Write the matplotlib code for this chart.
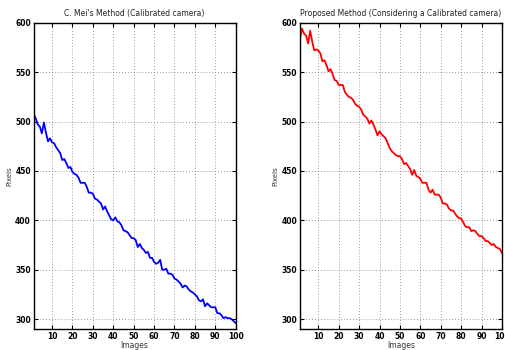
import numpy as np
import matplotlib
matplotlib.use('Agg')
import matplotlib.pyplot as plt

images = np.arange(1, 101)

mei_pixels = [508, 503, 497, 495, 488, 499, 489, 480, 483, 479,
              478, 474, 471, 468, 461, 462, 458, 453, 454, 449,
              447, 446, 443, 438, 438, 438, 434, 428, 428, 427,
              422, 421, 419, 417, 411, 414, 409, 405, 401, 400,
              403, 399, 398, 395, 390, 389, 388, 385, 382, 382,
              380, 373, 376, 372, 370, 367, 368, 362, 362, 358,
              356, 357, 360, 350, 350, 351, 346, 346, 345, 341,
              340, 338, 336, 332, 334, 333, 330, 328, 327, 325,
              323, 319, 318, 320, 313, 316, 314, 312, 312, 312,
              306, 306, 304, 301, 302, 301, 301, 300, 298, 296]

proposed_pixels = [584, 594, 589, 587, 579, 592, 581, 572, 573, 572,
                   569, 561, 562, 557, 551, 553, 548, 542, 541, 537,
                   537, 537, 530, 527, 525, 524, 522, 518, 516, 515,
                   512, 507, 505, 503, 498, 501, 497, 492, 486, 490,
                   487, 485, 483, 478, 473, 470, 468, 466, 465, 465,
                   462, 457, 458, 455, 452, 446, 451, 445, 444, 442,
                   438, 438, 438, 431, 428, 431, 426, 426, 426, 423,
                   417, 417, 416, 412, 410, 410, 407, 404, 402, 402,
                   398, 394, 393, 393, 389, 390, 389, 386, 384, 384,
                   382, 379, 379, 377, 375, 376, 373, 372, 371, 367]

titles = ["C. Mei's Method (Calibrated camera)",
          "Proposed Method (Considering a Calibrated camera)"]
xticks = list(range(10, 101, 10))
yticks = list(range(300, 601, 50))

fig = plt.figure(figsize=(5.05, 3.5), dpi=100)
ax1 = fig.add_axes([0.0667, 0.06, 0.4, 0.875])
ax2 = fig.add_axes([0.594, 0.06, 0.4, 0.875])

for ax, data, color, title in [(ax1, mei_pixels, 'blue', titles[0]),
                               (ax2, proposed_pixels, 'red', titles[1])]:
    ax.plot(images, data, color=color, linewidth=1.3)
    ax.set_xlim(1, 100)
    ax.set_ylim(290, 600)
    ax.set_xticks(xticks)
    ax.set_yticks(yticks)
    ax.grid(True, linestyle=(0, (1, 2.5)), color='#777777', linewidth=0.6)
    ax.tick_params(direction='in', top=True, right=True, length=3, width=0.8,
                   labelsize=5.5, pad=2)
    for lab in ax.get_xticklabels() + ax.get_yticklabels():
        lab.set_fontweight('bold')
    for sp in ax.spines.values():
        sp.set_linewidth(1.0)
    ax.set_title(title, fontsize=5.5, pad=5, color='#222222')
    ax.set_xlabel('Images', fontsize=5.5, labelpad=0, color='#333333')
    ax.set_ylabel('Pixels', fontsize=5, labelpad=2, color='#333333')

fig.savefig('out.png', dpi=100)
